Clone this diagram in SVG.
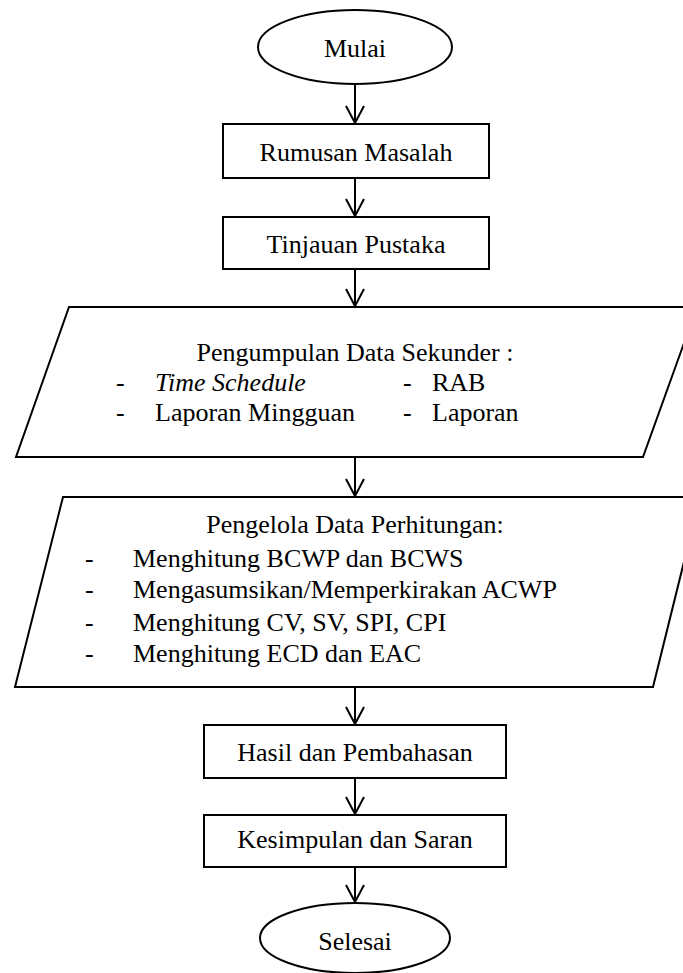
<svg xmlns="http://www.w3.org/2000/svg" width="683" height="973" viewBox="0 0 683 973">
<style>
.s{fill:#fff;stroke:#000;stroke-width:2}
.c{stroke:#000;stroke-width:2;fill:none}
text{font-family:"Liberation Serif","Times New Roman",serif;font-size:26px;fill:#000}
.m{text-anchor:middle}
</style>
<defs>
<marker id="ah" markerWidth="20" markerHeight="20" refX="18" refY="10" orient="auto" markerUnits="userSpaceOnUse" viewBox="0 0 20 20">
<path d="M1,1 L18,10 L1,19" fill="none" stroke="#000" stroke-width="2"/>
</marker>
</defs>
<rect width="683" height="973" fill="#fff"/>
<g id="connectors">
<line class="c" x1="355" y1="84" x2="355" y2="123" marker-end="url(#ah)"/>
<line class="c" x1="355" y1="178" x2="355" y2="216" marker-end="url(#ah)"/>
<line class="c" x1="355" y1="269" x2="355" y2="306" marker-end="url(#ah)"/>
<line class="c" x1="355" y1="457" x2="355" y2="496" marker-end="url(#ah)"/>
<line class="c" x1="355" y1="687" x2="355" y2="724" marker-end="url(#ah)"/>
<line class="c" x1="355" y1="778" x2="355" y2="814" marker-end="url(#ah)"/>
<line class="c" x1="355" y1="867" x2="355" y2="902" marker-end="url(#ah)"/>
</g>
<g id="mulai">
<ellipse class="s" cx="355" cy="47" rx="97" ry="37"/>
<text class="m" x="355" y="57">Mulai</text>
</g>
<g id="rumusan">
<rect class="s" x="223" y="124" width="266" height="54"/>
<text class="m" x="356" y="161">Rumusan Masalah</text>
</g>
<g id="tinjauan">
<rect class="s" x="223" y="217" width="266" height="52"/>
<text class="m" x="356" y="253">Tinjauan Pustaka</text>
</g>
<g id="pengumpulan">
<polygon class="s" points="69,307 697,307 643,457 16,457"/>
<text class="m" x="355" y="361">Pengumpulan Data Sekunder :</text>
<text x="116" y="391">-</text>
<text x="155" y="391" font-style="italic">Time Schedule</text>
<text x="403" y="391">-</text>
<text x="432" y="391">RAB</text>
<text x="116" y="421">-</text>
<text x="155" y="421">Laporan Mingguan</text>
<text x="403" y="421">-</text>
<text x="432" y="421">Laporan</text>
</g>
<g id="pengelola">
<polygon class="s" points="63,497 700,497 653,687 15,687"/>
<text class="m" x="355" y="533">Pengelola Data Perhitungan:</text>
<text x="85" y="567">-</text>
<text x="133" y="567">Menghitung BCWP dan BCWS</text>
<text x="85" y="598">-</text>
<text x="133" y="598">Mengasumsikan/Memperkirakan ACWP</text>
<text x="85" y="631">-</text>
<text x="133" y="631">Menghitung CV, SV, SPI, CPI</text>
<text x="85" y="662">-</text>
<text x="133" y="662">Menghitung ECD dan EAC</text>
</g>
<g id="hasil">
<rect class="s" x="204" y="725" width="302" height="53"/>
<text class="m" x="355" y="761">Hasil dan Pembahasan</text>
</g>
<g id="kesimpulan">
<rect class="s" x="204" y="815" width="302" height="52"/>
<text class="m" x="355" y="848">Kesimpulan dan Saran</text>
</g>
<g id="selesai">
<ellipse class="s" cx="355" cy="938" rx="95" ry="35"/>
<text class="m" x="355" y="950">Selesai</text>
</g>
</svg>
